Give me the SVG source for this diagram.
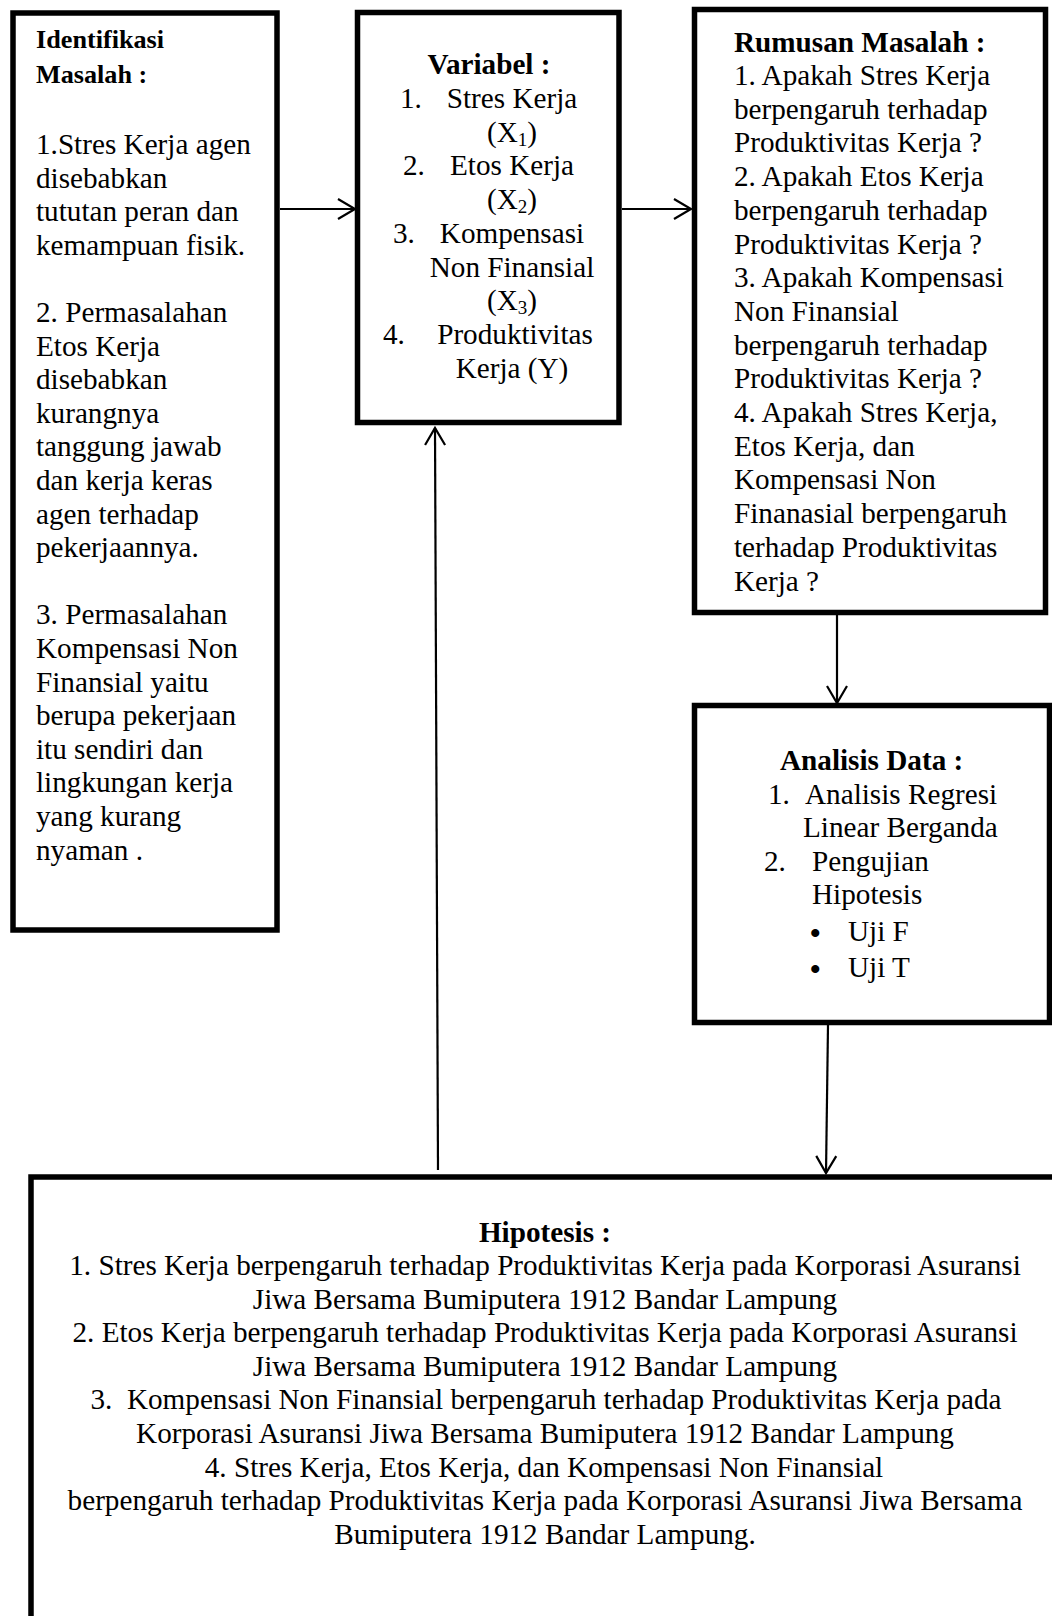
<svg xmlns="http://www.w3.org/2000/svg" width="1052" height="1616" viewBox="0 0 1052 1616">
<style>
.box{fill:#fff;stroke:#000;stroke-width:5.5}
.t{font-family:"Liberation Serif","Times New Roman",serif;font-size:29.2px;fill:#000}
.h{font-family:"Liberation Serif","Times New Roman",serif;font-size:29.2px;font-weight:bold;fill:#000}
.hs{font-family:"Liberation Serif","Times New Roman",serif;font-size:26.2px;font-weight:bold;fill:#000}
.m{text-anchor:middle}
.sub{font-size:19px}
.b{font-size:30px;font-weight:bold}
.c{fill:none;stroke:#000;stroke-width:2.2}
</style>
<defs>
<marker id="arr" viewBox="0 0 18 22" refX="17" refY="11" markerWidth="18" markerHeight="22" markerUnits="userSpaceOnUse" orient="auto" overflow="visible">
<path d="M0,1 L17,11 L0,21" fill="none" stroke="#000" stroke-width="2.2"/>
</marker>
</defs>
<rect width="1052" height="1616" fill="#fff"/>

<g id="identifikasi">
<rect class="box" x="13" y="13" width="264" height="917"/>
<text class="hs" x="36" y="48">Identifikasi</text>
<text class="hs" x="36" y="83">Masalah :</text>
<text class="t" x="36" y="154">1.Stres Kerja agen</text>
<text class="t" x="36" y="187.6">disebabkan</text>
<text class="t" x="36" y="221.2">tututan peran dan</text>
<text class="t" x="36" y="254.8">kemampuan fisik.</text>
<text class="t" x="36" y="322">2. Permasalahan</text>
<text class="t" x="36" y="355.6">Etos Kerja</text>
<text class="t" x="36" y="389.2">disebabkan</text>
<text class="t" x="36" y="422.8">kurangnya</text>
<text class="t" x="36" y="456.4">tanggung jawab</text>
<text class="t" x="36" y="490">dan kerja keras</text>
<text class="t" x="36" y="523.6">agen terhadap</text>
<text class="t" x="36" y="557.2">pekerjaannya.</text>
<text class="t" x="36" y="624.4">3. Permasalahan</text>
<text class="t" x="36" y="658">Kompensasi Non</text>
<text class="t" x="36" y="691.6">Finansial yaitu</text>
<text class="t" x="36" y="725.2">berupa pekerjaan</text>
<text class="t" x="36" y="758.8">itu sendiri dan</text>
<text class="t" x="36" y="792.4">lingkungan kerja</text>
<text class="t" x="36" y="826">yang kurang</text>
<text class="t" x="36" y="859.6">nyaman .</text>
</g>

<g id="variabel">
<rect class="box" x="357.5" y="12.5" width="261.5" height="410"/>
<text class="h m" x="489" y="74">Variabel :</text>
<text class="t" x="400" y="108">1.</text>
<text class="t m" x="512" y="108">Stres Kerja</text>
<text class="t m" x="512" y="141.7">(X<tspan class="sub" dy="4">1</tspan><tspan dy="-4">)</tspan></text>
<text class="t" x="403" y="175.4">2.</text>
<text class="t m" x="512" y="175.4">Etos Kerja</text>
<text class="t m" x="512" y="209.1">(X<tspan class="sub" dy="4">2</tspan><tspan dy="-4">)</tspan></text>
<text class="t" x="393" y="242.8">3.</text>
<text class="t m" x="512" y="242.8">Kompensasi</text>
<text class="t m" x="512" y="276.5">Non Finansial</text>
<text class="t m" x="512" y="310.2">(X<tspan class="sub" dy="4">3</tspan><tspan dy="-4">)</tspan></text>
<text class="t" x="383" y="343.9">4.</text>
<text class="t m" x="515" y="343.9">Produktivitas</text>
<text class="t m" x="512" y="377.6">Kerja (Y)</text>
</g>

<g id="rumusan">
<rect class="box" x="694.5" y="9.5" width="351" height="603"/>
<text class="h" x="734" y="52">Rumusan Masalah :</text>
<text class="t" x="734" y="85">1. Apakah Stres Kerja</text>
<text class="t" x="734" y="118.7">berpengaruh terhadap</text>
<text class="t" x="734" y="152.4">Produktivitas Kerja ?</text>
<text class="t" x="734" y="186.1">2. Apakah Etos Kerja</text>
<text class="t" x="734" y="219.8">berpengaruh terhadap</text>
<text class="t" x="734" y="253.5">Produktivitas Kerja ?</text>
<text class="t" x="734" y="287.2">3. Apakah Kompensasi</text>
<text class="t" x="734" y="320.9">Non Finansial</text>
<text class="t" x="734" y="354.6">berpengaruh terhadap</text>
<text class="t" x="734" y="388.3">Produktivitas Kerja ?</text>
<text class="t" x="734" y="422">4. Apakah Stres Kerja,</text>
<text class="t" x="734" y="455.7">Etos Kerja, dan</text>
<text class="t" x="734" y="489.4">Kompensasi Non</text>
<text class="t" x="734" y="523.1">Finanasial berpengaruh</text>
<text class="t" x="734" y="556.8">terhadap Produktivitas</text>
<text class="t" x="734" y="590.5">Kerja ?</text>
</g>

<g id="analisis">
<rect class="box" x="694.5" y="705.5" width="355" height="317"/>
<text class="h" x="780" y="770">Analisis Data :</text>
<text class="t" x="768" y="803.6">1.</text>
<text class="t" x="805" y="803.6">Analisis Regresi</text>
<text class="t" x="803" y="837.2">Linear Berganda</text>
<text class="t" x="764" y="870.8">2.</text>
<text class="t" x="812" y="870.8">Pengujian</text>
<text class="t" x="812" y="904.4">Hipotesis</text>
<text class="t b" x="810" y="943">•</text>
<text class="t" x="848" y="941">Uji F</text>
<text class="t b" x="810" y="979">•</text>
<text class="t" x="848" y="977">Uji T</text>
</g>

<g id="hipotesis">
<rect class="box" x="31" y="1177" width="1100" height="500"/>
<text class="h m" x="545" y="1242">Hipotesis :</text>
<text class="t m" x="545" y="1275">1. Stres Kerja berpengaruh terhadap Produktivitas Kerja pada Korporasi Asuransi</text>
<text class="t m" x="545" y="1308.6">Jiwa Bersama Bumiputera 1912 Bandar Lampung</text>
<text class="t m" x="545" y="1342.2">2. Etos Kerja berpengaruh terhadap Produktivitas Kerja pada Korporasi Asuransi</text>
<text class="t m" x="545" y="1375.8">Jiwa Bersama Bumiputera 1912 Bandar Lampung</text>
<text class="t m" x="546" y="1409.4">3.&#160; Kompensasi Non Finansial berpengaruh terhadap Produktivitas Kerja pada</text>
<text class="t m" x="545" y="1443">Korporasi Asuransi Jiwa Bersama Bumiputera 1912 Bandar Lampung</text>
<text class="t m" x="544" y="1476.6">4. Stres Kerja, Etos Kerja, dan Kompensasi Non Finansial</text>
<text class="t m" x="545" y="1510.2">berpengaruh terhadap Produktivitas Kerja pada Korporasi Asuransi Jiwa Bersama</text>
<text class="t m" x="545" y="1543.8">Bumiputera 1912 Bandar Lampung.</text>
</g>

<g id="connectors">
<line class="c" x1="280" y1="209" x2="355" y2="209" marker-end="url(#arr)"/>
<line class="c" x1="622" y1="209" x2="691" y2="209" marker-end="url(#arr)"/>
<line class="c" x1="837" y1="615" x2="837" y2="703" marker-end="url(#arr)"/>
<line class="c" x1="828" y1="1025" x2="826" y2="1173" marker-end="url(#arr)"/>
<line class="c" x1="438" y1="1170" x2="435" y2="428" marker-end="url(#arr)"/>
</g>
</svg>
